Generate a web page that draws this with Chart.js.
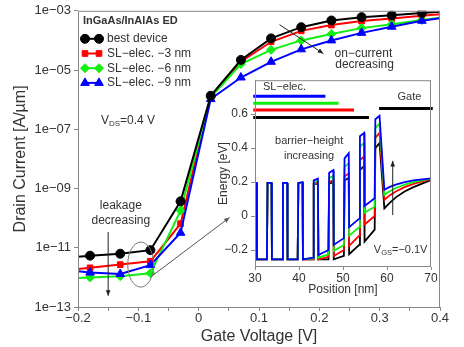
<!DOCTYPE html>
<html>
<head>
<meta charset="utf-8">
<script src="https://cdn.jsdelivr.net/npm/chart.js@4.4.1/dist/chart.umd.min.js"></script>
<style>
  html, body { margin: 0; padding: 0; background: #fff; }
  #wrap { position: relative; width: 464px; height: 347px; }
  #mainChart { position: absolute; left: 0; top: 0; }
  #insetChart { position: absolute; left: 205px; top: 70px; }
</style>
</head>
<body>
<div id="wrap">
  <canvas id="mainChart" width="464" height="347"></canvas>
  <canvas id="insetChart" width="240" height="230"></canvas>
</div>
<script>
const MINUS = "\u2212";

// MAIN CHART DATA (transfer curves)
const gateVoltage = [-0.2, -0.18, -0.13, -0.08, -0.03, 0.02, 0.07, 0.12, 0.17, 0.22, 0.27, 0.32, 0.37, 0.4];
const bestDevice = [5.0e-12, 5.4e-12, 6.3e-12, 8.3e-12, 3.7e-10, 1.35e-6, 2.2e-5, 1.17e-4, 2.8e-4, 4.7e-4, 6.1e-4, 7.1e-4, 8.5e-4, 9.3e-4];
const slElec3nm = [1.9e-12, 2.1e-12, 2.7e-12, 3.5e-12, 6.5e-11, 1.3e-6, 1.9e-5, 9.0e-5, 2.1e-4, 3.3e-4, 4.5e-4, 5.5e-4, 6.8e-4, 7.6e-4];
const slElec6nm = [0.95e-12, 1.0e-12, 1.1e-12, 1.38e-12, 1.8e-10, 1.2e-6, 1.6e-5, 4.8e-5, 1.0e-4, 1.65e-4, 2.6e-4, 3.5e-4, 4.9e-4, 5.8e-4];
const slElec9nm = [1.6e-12, 1.45e-12, 1.3e-12, 2.6e-12, 3.2e-11, 1.05e-6, 5.6e-6, 1.9e-5, 5.0e-5, 1.0e-4, 1.8e-4, 2.9e-4, 4.6e-4, 5.6e-4];
const seriesLabels = ["best device", "SL" + MINUS + "elec. " + MINUS + "3 nm", "SL" + MINUS + "elec. " + MINUS + "6 nm", "SL" + MINUS + "elec. " + MINUS + "9 nm"];
const yTickExponents = [-13, -11, -9, -7, -5, -3];

// INSET DATA (band diagram)
const position = [30, 30.35, 30.45, 32.7, 32.85, 33.75, 33.85, 36.2, 36.35, 37.3, 37.4, 39.7, 39.85, 40.8, 40.9, 43.2,
  43.35, 44.3, 44.4, 46.7, 46.85, 47.8, 47.9, 50.2, 50.35, 51.3, 51.4, 53.7, 53.85, 54.8, 54.9, 57.2, 57.35, 58.3,
  59.4, 60.5, 62, 64, 66, 70];
const bandBlue = [0.195, 0.195, -0.255, -0.255, 0.195, 0.195, -0.255, -0.255, 0.195, 0.195, -0.255, -0.255, 0.195, 0.2, -0.255, -0.245,
  0.21, 0.22, -0.23, -0.2, 0.255, 0.27, -0.17, -0.13, 0.34, 0.37, -0.065, -0.015, 0.47, 0.49, 0.06, 0.105, 0.57, 0.59,
  0.155, 0.17, 0.185, 0.2, 0.21, 0.222];
const bandGreen = [0.195, 0.195, -0.255, -0.255, 0.195, 0.195, -0.255, -0.255, 0.195, 0.195, -0.255, -0.255, 0.195, 0.195, -0.255, -0.25,
  0.2, 0.205, -0.245, -0.225, 0.225, 0.235, -0.205, -0.17, 0.29, 0.31, -0.115, -0.065, 0.41, 0.43, 0.02, 0.055, 0.52, 0.545,
  0.125, 0.145, 0.165, 0.185, 0.2, 0.22];
const bandRed = [0.195, 0.195, -0.255, -0.255, 0.195, 0.195, -0.255, -0.255, 0.195, 0.195, -0.255, -0.255, 0.195, 0.195, -0.255, -0.255,
  0.19, 0.195, -0.255, -0.24, 0.2, 0.21, -0.235, -0.2, 0.235, 0.25, -0.175, -0.115, 0.33, 0.35, -0.05, 0.0, 0.46, 0.49,
  0.095, 0.12, 0.145, 0.17, 0.19, 0.218];
const bandBlack = [0.195, 0.195, -0.255, -0.255, 0.195, 0.195, -0.255, -0.255, 0.195, 0.195, -0.255, -0.255, 0.195, 0.195, -0.255, -0.255,
  0.19, 0.19, -0.255, -0.255, 0.19, 0.2, -0.255, -0.235, 0.21, 0.225, -0.225, -0.17, 0.27, 0.295, -0.15, -0.08, 0.40, 0.43,
  0.045, 0.075, 0.11, 0.145, 0.17, 0.212];
// SL-electrode extent bars (blue, green, red, black) and gate bar
const slElecStart = 29.6;
const slElecEnd = [46, 49, 52.5, 55.9];
const slElecLevel = [0.705, 0.665, 0.624, 0.58];
const gateSpan = [58.2, 70.4];
const gateLevel = 0.634;
const insetYTicks = [-0.2, 0, 0.2, 0.4, 0.6];

Chart.defaults.font.family = "'Liberation Sans', Arial, sans-serif";
Chart.defaults.color = "#333";

const TEXT = "#333";
const FRAME = "#888";
const colors = ["#000000", "#ff0000", "#11ee11", "#0000ff"];

function fmtNum(v) {
  if (Math.abs(v) < 1e-9) return "0";
  return (v < 0 ? MINUS : "") + Math.abs(v).toFixed(1);
}

function arrow(ctx, x1, y1, x2, y2, head) {
  ctx.beginPath();
  ctx.moveTo(x1, y1);
  ctx.lineTo(x2, y2);
  ctx.stroke();
  const a = Math.atan2(y2 - y1, x2 - x1);
  ctx.beginPath();
  ctx.moveTo(x2, y2);
  ctx.lineTo(x2 - head * Math.cos(a - 0.4), y2 - head * Math.sin(a - 0.4));
  ctx.lineTo(x2 - head * Math.cos(a + 0.4), y2 - head * Math.sin(a + 0.4));
  ctx.closePath();
  ctx.fill();
}

function subText(ctx, x, y, main, sub, rest, size, subSize) {
  ctx.textAlign = "left";
  ctx.textBaseline = "middle";
  ctx.font = size + "px 'Liberation Sans', Arial, sans-serif";
  ctx.fillText(main, x, y);
  let w = ctx.measureText(main).width;
  ctx.font = subSize + "px 'Liberation Sans', Arial, sans-serif";
  ctx.fillText(sub, x + w, y + 3);
  w += ctx.measureText(sub).width;
  ctx.font = size + "px 'Liberation Sans', Arial, sans-serif";
  ctx.fillText(rest, x + w, y);
}

// MAIN CHART
const markerStyles = [
  { pointStyle: "circle", radius: 4.5 },
  { pointStyle: "rect", radius: 4 },
  { pointStyle: "rectRot", radius: 4.5 },
  { pointStyle: "triangle", radius: 5 }
];
const mainSeries = [bestDevice, slElec3nm, slElec6nm, slElec9nm];
const drawOrder = [0, 3, 2, 1];

const mainDecor = {
  id: "mainDecor",
  afterDraw(chart) {
    const ctx = chart.ctx;
    const a = chart.chartArea;
    const xs = chart.scales.x, ys = chart.scales.y;
    ctx.save();
    ctx.strokeStyle = FRAME;
    ctx.lineWidth = 1;
    ctx.strokeRect(a.left + 0.5, a.top + 0.5, a.right - a.left - 1, a.bottom - a.top);

    // legend
    ctx.fillStyle = TEXT;
    ctx.font = "bold 11px 'Liberation Sans', Arial, sans-serif";
    ctx.textAlign = "left";
    ctx.textBaseline = "middle";
    ctx.fillText("InGaAs/InAlAs ED", a.left + 5, a.top + 10);
    chart.data.datasets.forEach((ds, i) => {
      const y = a.top + 28 + i * 14.7;
      ctx.strokeStyle = ds.borderColor;
      ctx.fillStyle = ds.borderColor;
      ctx.lineWidth = 2;
      ctx.beginPath();
      ctx.moveTo(a.left + 7, y);
      ctx.lineTo(a.left + 21, y);
      ctx.stroke();
      ctx.lineWidth = 1;
      [a.left + 7, a.left + 21].forEach(px => {
        Chart.helpers.drawPoint(ctx, { pointStyle: ds.pointStyle, radius: ds.pointRadiusLegend, rotation: 0, borderWidth: 1 }, px, y);
      });
      ctx.fillStyle = TEXT;
      ctx.font = "12px 'Liberation Sans', Arial, sans-serif";
      ctx.fillText(ds.label, a.left + 29, y);
    });

    // annotations
    ctx.fillStyle = TEXT;
    subText(ctx, xs.getPixelForValue(-0.162), ys.getPixelForValue(1.9e-7), "V", "DS", "=0.4 V", 12, 8);
    ctx.font = "12px 'Liberation Sans', Arial, sans-serif";
    ctx.textAlign = "center";
    ctx.fillText("leakage", xs.getPixelForValue(-0.129), ys.getPixelForValue(2.6e-10));
    ctx.fillText("decreasing", xs.getPixelForValue(-0.129), ys.getPixelForValue(8.3e-11));
    ctx.fillText("on" + MINUS + "current", xs.getPixelForValue(0.273), ys.getPixelForValue(3.7e-5));
    ctx.fillText("decreasing", xs.getPixelForValue(0.275), ys.getPixelForValue(1.5e-5));

    ctx.strokeStyle = "#222";
    ctx.fillStyle = "#222";
    ctx.lineWidth = 1;
    arrow(ctx, xs.getPixelForValue(-0.15), ys.getPixelForValue(3.4e-11), xs.getPixelForValue(-0.15), ys.getPixelForValue(2.4e-13), 6);
    arrow(ctx, xs.getPixelForValue(0.134), ys.getPixelForValue(3.4e-4), xs.getPixelForValue(0.2066), ys.getPixelForValue(3.6e-5), 6);
    ctx.strokeStyle = "#555";
    ctx.fillStyle = "#555";
    arrow(ctx, xs.getPixelForValue(-0.0777), ys.getPixelForValue(1.1e-12), xs.getPixelForValue(0.0512), ys.getPixelForValue(1.05e-10), 6);

    ctx.strokeStyle = "#777";
    ctx.beginPath();
    ctx.ellipse(xs.getPixelForValue(-0.096), ys.getPixelForValue(2.7e-12), 13, 22.5, 0, 0, Math.PI * 2);
    ctx.stroke();
    ctx.restore();
  }
};

new Chart(document.getElementById("mainChart"), {
  type: "line",
  data: {
    datasets: mainSeries.map((vals, i) => ({
      label: seriesLabels[i],
      data: gateVoltage.map((v, j) => ({ x: v, y: vals[j] })),
      borderColor: colors[i],
      backgroundColor: colors[i],
      borderWidth: 2,
      pointStyle: markerStyles[i].pointStyle,
      pointRadiusLegend: markerStyles[i].radius,
      pointRadius: ctx => (ctx.dataIndex === 0 || ctx.dataIndex === gateVoltage.length - 1) ? 0 : markerStyles[i].radius,
      pointBorderWidth: 1,
      order: drawOrder[i],
      tension: 0
    }))
  },
  options: {
    responsive: false,
    animation: false,
    events: [],
    layout: { padding: { top: 9, right: 24, left: 0, bottom: 0 } },
    plugins: { legend: { display: false }, tooltip: { enabled: false } },
    scales: {
      x: {
        type: "linear",
        min: -0.2,
        max: 0.4,
        afterFit: s => { s.height = 40; },
        border: { display: false },
        grid: { drawOnChartArea: false, tickLength: 4, color: FRAME },
        ticks: {
          stepSize: 0.05,
          padding: 0,
          autoSkip: false,
          maxRotation: 0,
          color: TEXT,
          font: { size: 13 },
          callback: v => Math.abs(v * 10 - Math.round(v * 10)) < 1e-6 ? fmtNum(v) : ""
        },
        title: { display: true, text: "Gate Voltage [V]", color: TEXT, font: { size: 16 }, padding: { top: 0, bottom: 1 } }
      },
      y: {
        type: "logarithmic",
        min: 1e-13,
        max: 1e-3,
        afterFit: s => { s.width = 78; },
        afterBuildTicks: s => { s.ticks = yTickExponents.map(e => ({ value: Math.pow(10, e) })); },
        border: { display: false },
        grid: { drawOnChartArea: false, tickLength: 4, color: FRAME },
        ticks: {
          padding: 3,
          color: TEXT,
          font: { size: 13 },
          callback: v => {
            const e = Math.round(Math.log10(v));
            return "1e" + (e < 0 ? MINUS : "+") + String(Math.abs(e)).padStart(2, "0");
          }
        },
        title: { display: true, text: "Drain Current [A/\u00b5m]", color: TEXT, font: { size: 16 }, padding: { top: 11, bottom: 0 } }
      }
    }
  },
  plugins: [mainDecor]
});

// INSET CHART
const bandSeries = [bandBlue, bandGreen, bandRed, bandBlack];
const bandColors = [colors[3], colors[2], colors[1], colors[0]];

const insetDecor = {
  id: "insetDecor",
  beforeDraw(chart) {
    const a = chart.chartArea;
    chart.ctx.save();
    chart.ctx.fillStyle = "#fff";
    chart.ctx.fillRect(a.left, a.top, a.right - a.left, a.bottom - a.top);
    chart.ctx.restore();
  },
  afterDraw(chart) {
    const ctx = chart.ctx;
    const a = chart.chartArea;
    const xs = chart.scales.x, ys = chart.scales.y;
    ctx.save();
    ctx.strokeStyle = FRAME;
    ctx.lineWidth = 1;
    ctx.strokeRect(a.left + 0.5, a.top + 0.5, a.right - a.left - 1, a.bottom - a.top - 1);

    ctx.fillStyle = TEXT;
    ctx.font = "11px 'Liberation Sans', Arial, sans-serif";
    ctx.textBaseline = "middle";
    ctx.textAlign = "left";
    ctx.fillText("SL" + MINUS + "elec.", xs.getPixelForValue(31.8), ys.getPixelForValue(0.76));
    ctx.textAlign = "center";
    ctx.fillText("Gate", xs.getPixelForValue(65.1), ys.getPixelForValue(0.70));
    ctx.fillText("barrier" + MINUS + "height", xs.getPixelForValue(42.3), ys.getPixelForValue(0.44));
    ctx.fillText("increasing", xs.getPixelForValue(42.3), ys.getPixelForValue(0.354));
    subText(ctx, xs.getPixelForValue(57), ys.getPixelForValue(-0.197), "V", "GS", "=" + MINUS + "0.1V", 11, 7.5);

    ctx.strokeStyle = "#222";
    ctx.fillStyle = "#222";
    arrow(ctx, xs.getPixelForValue(61.3), ys.getPixelForValue(0.006), xs.getPixelForValue(61.3), ys.getPixelForValue(0.325), 6);
    ctx.restore();
  }
};

const insetDatasets = bandSeries.map((vals, i) => ({
  data: position.map((p, j) => ({ x: p, y: vals[j] })),
  borderColor: bandColors[i],
  borderWidth: 1.8,
  pointRadius: 0,
  order: i,
  tension: 0
}));
slElecEnd.forEach((end, i) => {
  insetDatasets.push({
    data: [{ x: slElecStart, y: slElecLevel[i] }, { x: end, y: slElecLevel[i] }],
    borderColor: bandColors[i],
    borderWidth: 3,
    pointRadius: 0,
    clip: false,
    order: 4 + i
  });
});
insetDatasets.push({
  data: [{ x: gateSpan[0], y: gateLevel }, { x: gateSpan[1], y: gateLevel }],
  borderColor: "#000",
  borderWidth: 3,
  pointRadius: 0,
  clip: false,
  order: 8
});

new Chart(document.getElementById("insetChart"), {
  type: "line",
  data: { datasets: insetDatasets },
  options: {
    responsive: false,
    animation: false,
    events: [],
    layout: { padding: { top: 8, right: 14, left: 0, bottom: 0 } },
    plugins: { legend: { display: false }, tooltip: { enabled: false } },
    scales: {
      x: {
        type: "linear",
        min: 30,
        max: 70,
        afterFit: s => { s.height = 33; },
        border: { display: false },
        grid: { drawOnChartArea: false, tickLength: 3, color: FRAME },
        ticks: { stepSize: 10, padding: 1, color: TEXT, font: { size: 12 }, maxRotation: 0 },
        title: { display: true, text: "Position [nm]", color: TEXT, font: { size: 12 }, padding: { top: 0, bottom: 3 } }
      },
      y: {
        type: "linear",
        min: -0.3,
        max: 0.8,
        afterFit: s => { s.width = 50; },
        afterBuildTicks: s => { s.ticks = insetYTicks.map(v => ({ value: v })); },
        border: { display: false },
        grid: { drawOnChartArea: false, tickLength: 4, color: FRAME },
        ticks: { padding: 3, color: TEXT, font: { size: 12 }, callback: v => fmtNum(v) },
        title: { display: true, text: "Energy [eV]", color: TEXT, font: { size: 12 }, padding: { top: 11, bottom: 0 } }
      }
    }
  },
  plugins: [insetDecor]
});
</script>
</body>
</html>
